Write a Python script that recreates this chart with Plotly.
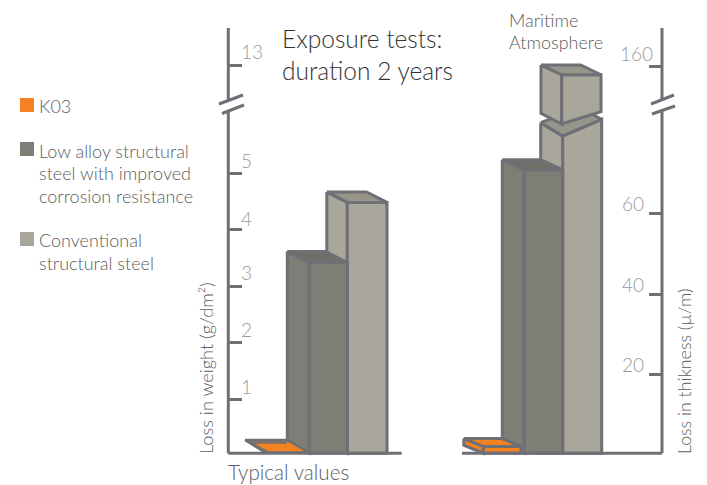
import plotly.graph_objects as go

# ---- data ----
series = ["K03", "Low alloy structural steel with improved corrosion resistance", "Conventional structural steel"]
weight_loss = [0.04, 3.42, 4.48]      # g/dm2, "Typical values"
thickness_loss = [2.0, 71.0, 158.0]   # um, "Maritime Atmosphere"
left_ticks = [1, 2, 3, 4, 5, 13]
right_ticks = [20, 40, 60, 160]
left_shift = 6.09      # units removed by the axis break
right_shift = 63.3
left_break = 6
right_break = 90

W, H = 707, 485
L0, LS = 455.5, 56.5   # left axis: zero pixel, px per unit
R0, RS = 454.5, 4.01   # right axis
BASE = 453.2
GREY = "#6f6f76"
ORANGE, LOW, CONV = "#f58220", "#7e7e76", "#a9a69c"
LOW_TOP, CONV_TOP = "#6f6f6a", "#97948a"
TXT, TICK = "#5c5c5e", "#9a9a9c"
FONT = "Lato"

fig = go.Figure()


def ldisp(v):
    return v - left_shift if v > left_break else v


def rdisp(v):
    return v - right_shift if v > right_break else v


def ly(px):
    return (L0 - px) / LS


def ry(px):
    return (R0 - px) / RS


def poly(xs, ys, fill, axis="y", lw=3):
    fig.add_trace(go.Scatter(x=xs + xs[:1], y=ys + ys[:1], mode="lines", fill="toself", fillcolor=fill,
                             line=dict(color=GREY, width=lw), yaxis=axis, showlegend=False,
                             hoverinfo="skip", cliponaxis=False))


def line(xs, ys, axis="y", lw=3):
    fig.add_trace(go.Scatter(x=xs, y=ys, mode="lines", line=dict(color=GREY, width=lw), yaxis=axis,
                             showlegend=False, hoverinfo="skip", cliponaxis=False))


def box(x0, x1, dx, dy, top, sc, base, fill, topfill, axis, side=None):
    """front face x0..x1, top at value `top`, receding dx/dy pixels"""
    d = dy / sc
    poly([x0 + dx, x0, x0, x0 + dx], [top + d, top, base, base + d], side or fill, axis)
    poly([x0, x1, x1, x0], [top, top, base, base], fill, axis)
    poly([x0 + dx, x0, x1, x1 + dx], [top + d, top, top, top + d], topfill, axis)


lbase, rbase = ly(BASE), ry(BASE)

# left group
box(347.3, 387, -20.5, 10.5, ldisp(weight_loss[2]), LS, lbase, CONV, CONV_TOP, "y")
box(309.3, 347.3, -22, 10.7, ldisp(weight_loss[1]), LS, lbase, LOW, LOW_TOP, "y")
# K03 left: almost flat slab
poly([245, 265, 309, 287], [ly(440), ly(452.5), ly(452.5), ly(440)], ORANGE, "y", 2.5)
line([250, 267], [ly(442.5), ly(452)], "y", 2.5)
line([250, 287], [ly(442.5), ly(442.5)], "y", 2.5)

# right group: lower part of the conventional bar, broken top
rc = rdisp(thickness_loss[2])
poly([540.7, 562.7, 562.7, 540.7], [ry(122.7), ry(136), rbase, rbase], CONV, "y2")
poly([562.7, 601.7, 601.7, 562.7], [ry(136), ry(119.3), rbase, rbase], CONV, "y2")
poly([540.7, 562.7, 601.7, 580], [ry(122.7), ry(136), ry(119.3), ry(108)], CONV_TOP, "y2")
# upper cube of the conventional bar
d = 9.8 / RS
cb_l, cb_r, cb_s = ry(124), ry(111.7), ry(113.3)
poly([541, 561.7, 561.7, 541], [rc + d, rc, cb_l, cb_s], CONV, "y2")
poly([561.7, 601, 601, 561.7], [rc, rc, cb_r, cb_l], CONV, "y2")
poly([541, 561.7, 601, 580.7], [rc + d, rc, rc, rc + d], CONV_TOP, "y2")
box(524.3, 562.7, -22, 10, rdisp(thickness_loss[1]), RS, rbase, LOW, LOW_TOP, "y2")
# K03 right
box(483.3, 521, -19.5, 8, thickness_loss[0], RS, rbase, ORANGE, ORANGE, "y2")

# axes drawn as broken lines
line([228.3, 228.3], [ly(28), ly(100)])
line([228.3, 228.3], [ly(110), ly(BASE)])
line([219, 243], [ly(104), ly(95)])
line([222, 244], [ly(113.5), ly(105)])
line([228.3, 401.7], [lbase, lbase])
line([662, 662], [ry(28), ry(100)], "y2")
line([662, 662], [ry(110), rbase], "y2")
line([651, 674], [ry(104), ry(95)], "y2")
line([652, 675], [ry(114), ry(106)], "y2")
line([462, 662], [rbase, rbase], "y2")

# legend swatches
fig.add_trace(go.Scatter(x=[27, 27, 27], y=[ly(105), ly(149), ly(239)], mode="markers",
                         marker=dict(symbol="square", size=14, color=[ORANGE, LOW, CONV]),
                         showlegend=False, hoverinfo="skip"))


def note(text, x, px, size, color=TXT, anchor="left", angle=0):
    fig.add_annotation(text=text, x=x, y=ly(px), xref="x", yref="y", showarrow=False, xanchor=anchor,
                       yanchor="middle", textangle=angle,
                       font=dict(family=FONT, size=size, color=color, weight=300))


note("Exposure tests:", 280, 38, 24.5, "#333335")
note("duration 2 years", 280, 70, 24.5, "#333335")
note("Maritime", 507, 20, 18)
note("Atmosphere", 507, 42, 18)
note("Typical values", 226, 471.5, 20.6)
note("K03", 37, 106, 18)
for t, p in zip(["Low alloy structural", "steel with improved", "corrosion resistance"], [151, 173, 196]):
    note(t, 37, p, 18)
for t, p in zip(["Conventional", "structural steel"], [240, 263]):
    note(t, 37, p, 18)
note("Loss in weight (g/dm²)", 206, 368, 18.2, anchor="center", angle=-90)
note("Loss in thikness (µ/m)", 684, 371, 17.8, anchor="center", angle=-90)

for v, s in zip(left_ticks, [13, 13, 14, 11, 13, 14]):
    fig.add_annotation(text=str(v), x=239, y=ldisp(v), xref="x", yref="y", yshift=s, showarrow=False,
                       xanchor="left", yanchor="middle", font=dict(family=FONT, size=19, color=TICK, weight=300))
for v, s, x in zip(right_ticks, [10, 10, 10, 13], [646, 646, 646, 655]):
    fig.add_annotation(text=str(v), x=x, y=rdisp(v), xref="x", yref="y2", yshift=s, showarrow=False,
                       xanchor="right", yanchor="middle", font=dict(family=FONT, size=19, color=TICK, weight=300))

fig.update_layout(
    width=W, height=H, margin=dict(l=0, r=0, t=0, b=0), paper_bgcolor="white", plot_bgcolor="white",
    showlegend=False,
    xaxis=dict(range=[0, W], visible=False, domain=[0, 1], fixedrange=True),
    yaxis=dict(range=[ly(H), ly(0)], domain=[0, 1], anchor="free", position=228.3 / W, showgrid=False,
               zeroline=False, showline=False, tickmode="array", tickvals=[ldisp(v) for v in left_ticks],
               ticks="inside", ticklen=13, tickwidth=3, tickcolor=GREY, showticklabels=False, fixedrange=True),
    yaxis2=dict(range=[ry(H), ry(0)], domain=[0, 1], anchor="free", position=662 / W, overlaying="y", side="right",
                showgrid=False, zeroline=False, showline=False, tickmode="array",
                tickvals=[rdisp(v) for v in right_ticks], ticks="inside", ticklen=13, tickwidth=3,
                tickcolor=GREY, showticklabels=False, fixedrange=True),
)
fig.write_html("out.html", config=dict(displayModeBar=False),
               post_script="document.body.style.margin='0';document.documentElement.style.overflow='hidden';")
